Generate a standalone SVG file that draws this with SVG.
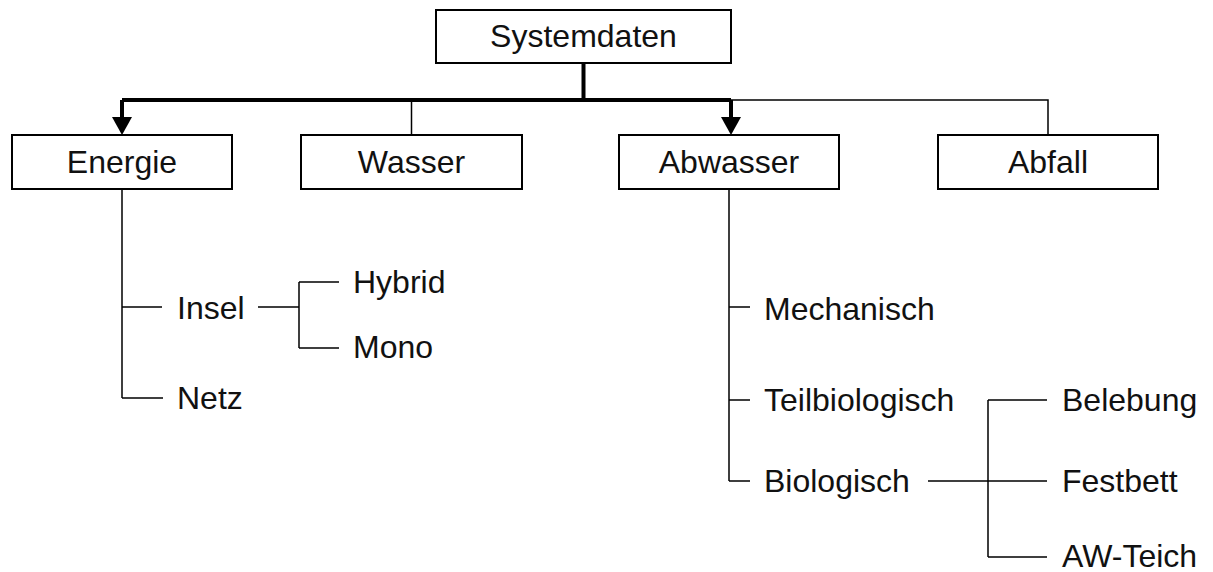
<svg xmlns="http://www.w3.org/2000/svg" width="1213" height="572" viewBox="0 0 1213 572">
<style>
.box{fill:#fff;stroke:#000;stroke-width:2}
.t{font-family:"Liberation Sans",Arial,sans-serif;font-size:32px;fill:#111}
.c{text-anchor:middle}
.thin{fill:none;stroke:#000;stroke-width:1.5}
.thick{fill:none;stroke:#000;stroke-width:4}
.ah{fill:#000}
</style>
<rect width="1213" height="572" fill="#fff"/>
<g id="connectors">
<path class="thick" d="M583.5 63 V100 M122 100 H731"/>
<path class="thick" d="M122 100 V118 M731 100 V118"/>
<polygon class="ah" points="112,117 132,117 122,135"/>
<polygon class="ah" points="721,117 741,117 731,135"/>
<path class="thin" d="M731 100 H1048 V135 M411.5 100 V135"/>
<path class="thin" d="M122 189 V398 M122 307 H162 M122 398 H163"/>
<path class="thin" d="M258 307 H299 M299 282 V348 M299 282 H339 M299 348 H339"/>
<path class="thin" d="M729 189 V481 M729 307 H750 M729 400 H750 M729 481 H750"/>
<path class="thin" d="M928 481 H1047 M988 400 V557 M988 400 H1047 M988 557 H1047"/>
</g>
<g id="systemdaten"><rect class="box" x="436" y="10" width="295" height="53"/><text class="t c" x="583.5" y="47">Systemdaten</text></g>
<g id="energie"><rect class="box" x="12" y="135" width="220" height="54"/><text class="t c" x="122" y="173">Energie</text></g>
<g id="wasser"><rect class="box" x="301" y="135" width="221" height="54"/><text class="t c" x="411.5" y="173">Wasser</text></g>
<g id="abwasser"><rect class="box" x="619" y="135" width="220" height="54"/><text class="t c" x="729" y="173">Abwasser</text></g>
<g id="abfall"><rect class="box" x="938" y="135" width="220" height="54"/><text class="t c" x="1048" y="173">Abfall</text></g>
<g id="insel"><text class="t" x="177" y="319">Insel</text></g>
<g id="netz"><text class="t" x="177" y="409">Netz</text></g>
<g id="hybrid"><text class="t" x="353" y="293">Hybrid</text></g>
<g id="mono"><text class="t" x="353" y="358">Mono</text></g>
<g id="mechanisch"><text class="t" x="764" y="320">Mechanisch</text></g>
<g id="teilbiologisch"><text class="t" x="764" y="411">Teilbiologisch</text></g>
<g id="biologisch"><text class="t" x="764" y="492">Biologisch</text></g>
<g id="belebung"><text class="t" x="1062" y="411">Belebung</text></g>
<g id="festbett"><text class="t" x="1062" y="492">Festbett</text></g>
<g id="awteich"><text class="t" x="1062" y="567">AW-Teich</text></g>
</svg>
